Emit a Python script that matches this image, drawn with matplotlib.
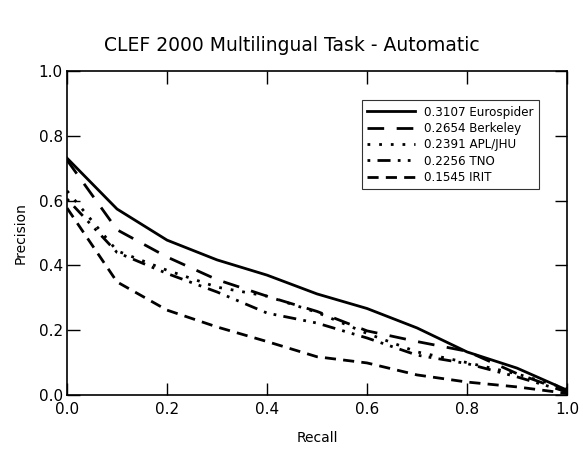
import matplotlib
matplotlib.use("Agg")
import matplotlib.pyplot as plt
import numpy as np

# recall levels and interpolated precision per run
recall = [0.0, 0.1, 0.2, 0.3, 0.4, 0.5, 0.6, 0.7, 0.8, 0.9, 1.0]
eurospider = [0.731, 0.574, 0.478, 0.417, 0.370, 0.312, 0.267, 0.207, 0.133, 0.083, 0.015]
berkeley = [0.725, 0.510, 0.426, 0.356, 0.305, 0.258, 0.198, 0.165, 0.135, 0.066, 0.010]
apl_jhu = [0.630, 0.445, 0.385, 0.333, 0.305, 0.255, 0.190, 0.133, 0.100, 0.065, 0.020]
tno = [0.605, 0.440, 0.375, 0.318, 0.253, 0.222, 0.176, 0.123, 0.097, 0.056, 0.010]
irit = [0.577, 0.349, 0.262, 0.210, 0.165, 0.118, 0.099, 0.062, 0.040, 0.025, 0.005]

labels = ["0.3107 Eurospider", "0.2654 Berkeley", "0.2391 APL/JHU", "0.2256 TNO", "0.1545 IRIT"]
series = [eurospider, berkeley, apl_jhu, tno, irit]
styles = ["-", (0, (6, 4.5)), (0, (1, 3.2)), (0, (1, 2.6, 4.7, 2.6, 1, 2.6)), (0, (4, 2.6))]

fig = plt.figure(figsize=(5.83, 4.5), dpi=100)
ax = fig.add_axes([0.115, 0.1222, 0.8576, 0.72])

for vals, lab, ls in zip(series, labels, styles):
    ax.plot(recall, vals, color="black", linestyle=ls, linewidth=2.0, label=lab)

ax.set_xlim(0, 1)
ax.set_ylim(0, 1)
ax.set_xticks(np.arange(0, 1.01, 0.2))
ax.set_yticks(np.arange(0, 1.01, 0.2))
ax.xaxis.set_major_formatter(plt.FormatStrFormatter("%.1f"))
ax.yaxis.set_major_formatter(plt.FormatStrFormatter("%.1f"))
ax.tick_params(direction="in", length=9, width=1, top=True, right=True,
               labelsize=11, pad=3)
ax.tick_params(axis="x", pad=5)
for s in ax.spines.values():
    s.set_linewidth(1.2)

ax.set_xlabel("Recall", fontsize=10, labelpad=10)
ax.set_ylabel("Precision", fontsize=10, labelpad=8)
fig.suptitle("CLEF 2000 Multilingual Task - Automatic", fontsize=13.5, y=0.92)

leg = ax.legend(loc="upper left", bbox_to_anchor=(0.59, 0.91), fontsize=8.6,
                frameon=True, fancybox=False, handlelength=4.0,
                labelspacing=0.28, borderpad=0.45, handletextpad=0.75,
                borderaxespad=0.0)
leg.get_frame().set_edgecolor("black")
leg.get_frame().set_linewidth(0.8)

fig.savefig("out.png", dpi=100)
